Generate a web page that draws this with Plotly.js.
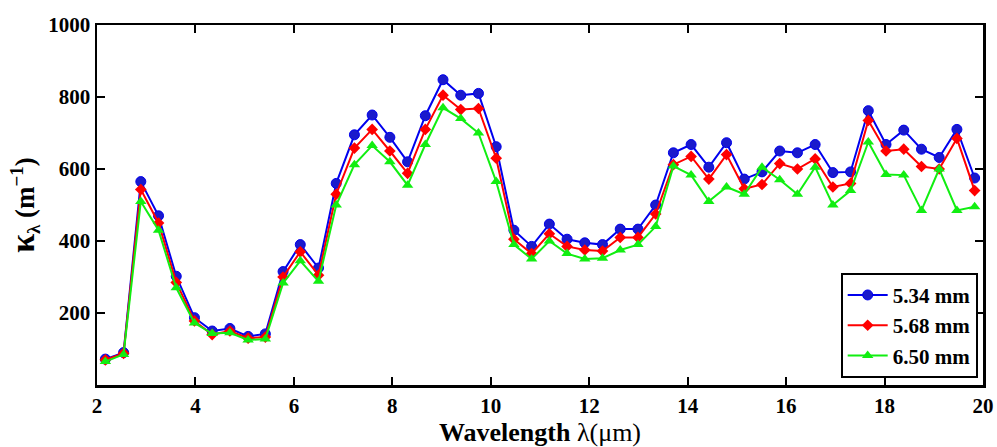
<!DOCTYPE html>
<html>
<head>
<meta charset="utf-8">
<script src="https://cdn.plot.ly/plotly-3.0.1.min.js"></script>
<style>html,body{margin:0;padding:0;background:#fff;}</style>
</head>
<body>
<div id="chart" style="width:997px;height:447px;"></div>
<script>
const wavelength = [2.17,2.54,2.89,3.25,3.61,3.98,4.34,4.70,5.07,5.42,
  5.78,6.13,6.50,6.86,7.23,7.59,7.95,8.31,8.67,9.03,
  9.39,9.75,10.11,10.47,10.83,11.19,11.55,11.91,12.27,12.63,
  12.99,13.35,13.71,14.07,14.43,14.79,15.15,15.51,15.87,16.23,
  16.59,16.95,17.31,17.67,18.03,18.39,18.75,19.11,19.47,19.83];
const k534 = [72,90,565,470,302,187,150,157,135,142,
  315,390,325,560,695,750,688,620,748,848,
  805,810,662,430,385,447,405,395,390,433,
  433,500,645,668,605,673,572,592,650,645,
  668,590,592,762,668,708,655,632,710,575];
const k568 = [70,88,543,450,285,178,140,150,130,133,
  300,370,305,530,658,710,650,588,710,805,
  765,768,630,405,365,420,385,375,372,410,
  410,475,612,635,572,640,545,557,615,600,
  628,550,560,735,650,655,607,600,685,540];
const k650 = [65,85,510,430,270,172,143,145,125,128,
  283,345,288,500,612,665,620,555,668,770,
  740,700,565,390,350,400,365,350,352,375,
  390,440,608,583,510,550,530,605,570,530,
  605,500,540,675,585,583,485,600,485,495];
const seriesNames = ["5.34 mm","5.68 mm","6.50 mm"];
const yTicks = [200,400,600,800,1000];
const xTicks = [2,4,6,8,10,12,14,16,18,20];

const traces = [
  {x: wavelength, y: k534, name: seriesNames[0], mode: "lines+markers",
   line: {color: "#0000ee", width: 2},
   marker: {symbol: "circle", size: 10, color: "#1a1acc", line: {color: "#0000ee", width: 1}}},
  {x: wavelength, y: k568, name: seriesNames[1], mode: "lines+markers",
   line: {color: "#ff0000", width: 2},
   marker: {symbol: "diamond", size: 9, color: "#ff0000"}},
  {x: wavelength, y: k650, name: seriesNames[2], mode: "lines+markers",
   line: {color: "#11ee11", width: 2},
   marker: {symbol: "triangle-up", size: 10, color: "#11ee11"}}
];

const fontFam = "Liberation Serif, Times New Roman, serif";
const layout = {
  width: 997, height: 447,
  margin: {l: 97, r: 14, t: 25, b: 62},
  paper_bgcolor: "#fff", plot_bgcolor: "#fff",
  showlegend: true,
  legend: {
    x: 0.994, y: 0.02, xanchor: "right", yanchor: "bottom",
    bordercolor: "#000", borderwidth: 2, bgcolor: "#fff",
    font: {family: fontFam, size: 21, color: "#000", weight: "bold"},
    tracegroupgap: 0, itemwidth: 40
  },
  xaxis: {
    range: [2, 20], tickvals: xTicks, ticktext: xTicks.map(String),
    ticks: "inside", ticklen: 8, tickwidth: 2, tickcolor: "#000",
    showline: true, linewidth: 2.5, linecolor: "#000", mirror: "ticks",
    showgrid: false, zeroline: false,
    tickfont: {family: fontFam, size: 21, color: "#000", weight: "bold"},
    title: {text: "<b>Wavelength</b> λ(μm)", font: {family: fontFam, size: 26, color: "#000"}, standoff: 2}
  },
  yaxis: {
    range: [0, 1000], tickvals: yTicks, ticktext: yTicks.map(String),
    ticks: "inside", ticklen: 8, tickwidth: 2, tickcolor: "#000",
    showline: true, linewidth: 2.5, linecolor: "#000", mirror: "ticks",
    showgrid: false, zeroline: false,
    tickfont: {family: fontFam, size: 21, color: "#000", weight: "bold"},
    title: {text: "<b><span style='font-size:34px'>κ</span><sub>λ</sub> (m<sup>−1</sup>)</b>", font: {family: fontFam, size: 27, color: "#000"}, standoff: 6}
  }
};
Plotly.newPlot("chart", traces, layout, {displayModeBar: false, staticPlot: true});
</script>
</body>
</html>
